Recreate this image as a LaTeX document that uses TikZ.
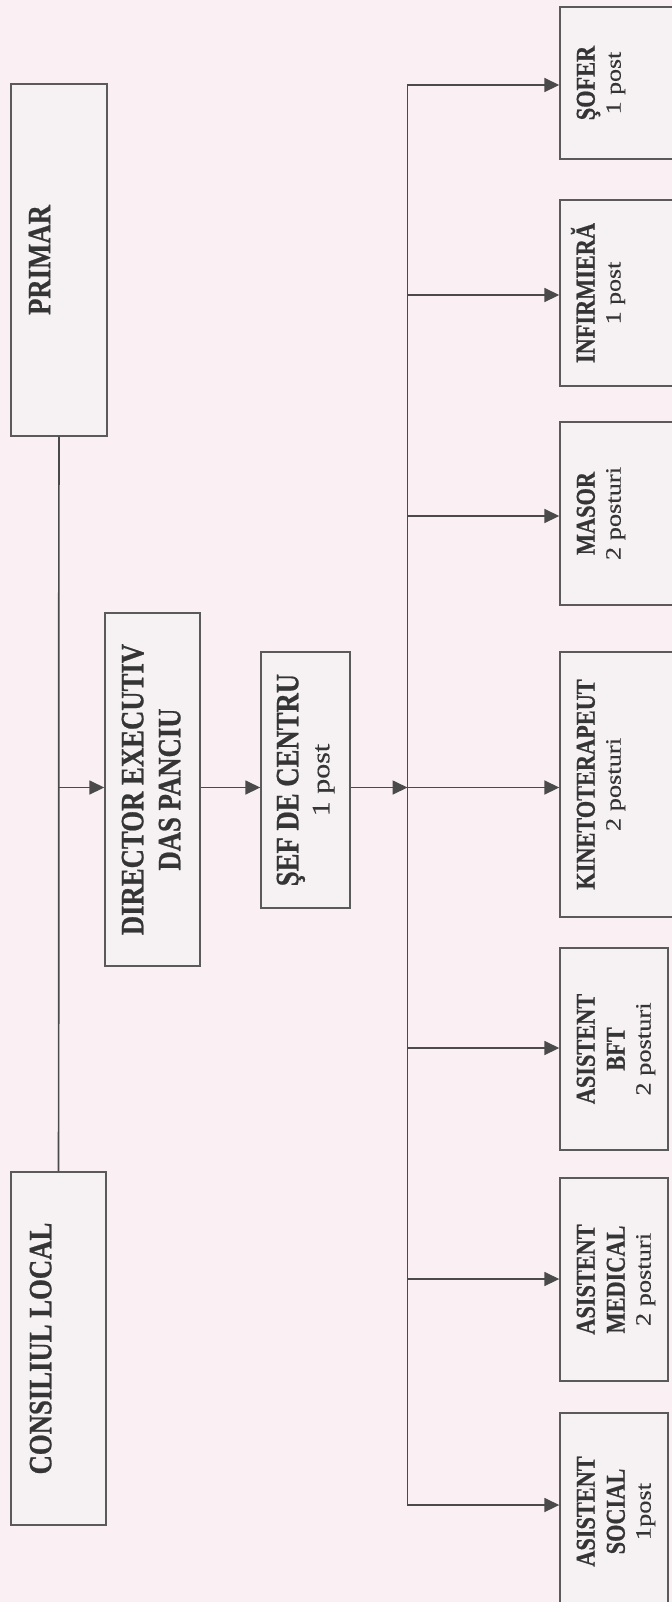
\documentclass[tikz,border=0pt]{standalone}
\usepackage{fontspec}
\setmainfont{Liberation Serif}
\newfontfamily\bfam{Liberation Serif Bold}[FakeStretch=0.82,FakeBold=0.7]
\newfontfamily\rfam{Liberation Serif}[FakeStretch=1.2,FakeBold=0.3]
\usetikzlibrary{arrows.meta}
\definecolor{bgcol}{HTML}{FAF0F4}
\definecolor{boxfill}{HTML}{F6F2F4}
\definecolor{edgecol}{HTML}{5A5A5A}
\definecolor{inkcol}{HTML}{353535}
\definecolor{wirecol}{HTML}{4A4A4A}
\newcommand\regtxt[2]{{\rfam\fontsize{#1}{#1}\selectfont #2}}
\begin{document}
\begin{tikzpicture}[x=0.5pt,y=-0.5pt,
  box/.style={draw=edgecol, line width=0.7pt, fill=boxfill, inner sep=0pt},
  lbl/.style={rotate=90, anchor=north, inner sep=0pt, align=center, text=inkcol},
  bigtxt/.style={lbl, font=\bfam\fontsize{16.3}{18.5}\selectfont},
  smalltxt/.style={lbl, font=\bfam\fontsize{13.6}{15}\selectfont},
  conn/.style={draw=wirecol, line width=0.85pt},
  arr/.style={conn, -{Triangle[length=7.5pt,width=7pt]}}]
\useasboundingbox (0,0) rectangle (672,1602);
\clip (0,0) rectangle (672,1602);
\fill[bgcol] (0,0) rectangle (672,1602);

% left column boxes
\node[box, minimum width=48pt, minimum height=176pt] (primar) at (59,260) {};
\node[box, minimum width=47.5pt, minimum height=176.5pt] (consiliu) at (58.5,1348.5) {};
\node[box, minimum width=47.5pt, minimum height=176.5pt] (director) at (152.5,789.5) {};
\node[box, minimum width=44.5pt, minimum height=128pt] (sef) at (305.5,780) {};

% right column boxes
\node[box, minimum width=60pt, minimum height=76pt] (sofer) at (620,83) {};
\node[box, minimum width=60pt, minimum height=93pt] (infirmiera) at (620,293) {};
\node[box, minimum width=60pt, minimum height=91.5pt] (masor) at (620,513.5) {};
\node[box, minimum width=60pt, minimum height=132.5pt] (kineto) at (620,784.5) {};
\node[box, minimum width=54pt, minimum height=101pt] (bft) at (614,1049) {};
\node[box, minimum width=54pt, minimum height=101.5pt] (medical) at (614,1279.5) {};
\node[box, minimum width=54pt, minimum height=98.5pt] (social) at (614,1511.5) {};

% labels
\node[bigtxt] (primar-t) at ([xshift=9pt]primar.west) {PRIMAR};
\node[bigtxt] (consiliu-t) at ([xshift=9.5pt]consiliu.west) {CONSILIUL LOCAL};
\node[bigtxt] (director-t) at ([xshift=8.5pt]director.west) {DIRECTOR EXECUTIV\\DAS PANCIU};
\node[bigtxt] (sef-t) at ([xshift=8pt]sef.west) {ŞEF DE CENTRU\\[-3pt]\regtxt{12.5}{1 post}};
\node[smalltxt] (sofer-t) at ([xshift=8.5pt]sofer.west) {ŞOFER\\[-2pt]\regtxt{10.8}{1 post}};
\node[smalltxt] (infirmiera-t) at ([xshift=8.5pt]infirmiera.west) {INFIRMIER\smash{Ă}\\[-2pt]\regtxt{10.8}{1 post}};
\node[smalltxt] (masor-t) at ([xshift=8.5pt]masor.west) {MASOR\\[-2pt]\regtxt{11}{2 posturi}};
\node[smalltxt] (kineto-t) at ([xshift=8.5pt]kineto.west) {KINETOTERAPEUT\\[-2pt]\regtxt{11}{2 posturi}};
\node[smalltxt] (bft-t) at ([xshift=8.5pt]bft.west) {ASISTENT\\BFT\\[-2pt]\regtxt{11}{2 posturi}};
\node[smalltxt] (medical-t) at ([xshift=8.5pt]medical.west) {ASISTENT\\MEDICAL\\[-2pt]\regtxt{11}{2 posturi}};
\node[smalltxt] (social-t) at ([xshift=8.5pt]social.west) {ASISTENT\\SOCIAL\\[-2pt]\regtxt{11}{1post}};

% branch points
\coordinate (hub) at (407.5,787.5);
\coordinate (b1) at (407.5,85);
\coordinate (b2) at (407.5,295);
\coordinate (b3) at (407.5,516);
\coordinate (b5) at (407.5,1048);
\coordinate (b6) at (407.5,1279);
\coordinate (b7) at (407.5,1505);

% connectors
\draw[conn] (primar) -- (consiliu);
\draw[arr] (primar.south |- hub) -- (director.west |- hub);
\draw[arr] (director.east |- hub) -- (sef.west |- hub);
\draw[arr] (sef.east |- hub) -- (hub);
\draw[conn, line cap=rect] (b1) -- (b7);
\draw[arr] (b1) -- (sofer.west |- b1);
\draw[arr] (b2) -- (infirmiera.west |- b2);
\draw[arr] (b3) -- (masor.west |- b3);
\draw[arr] (hub) -- (kineto.west |- hub);
\draw[arr] (b5) -- (bft.west |- b5);
\draw[arr] (b6) -- (medical.west |- b6);
\draw[arr] (b7) -- (social.west |- b7);
\end{tikzpicture}
\end{document}
